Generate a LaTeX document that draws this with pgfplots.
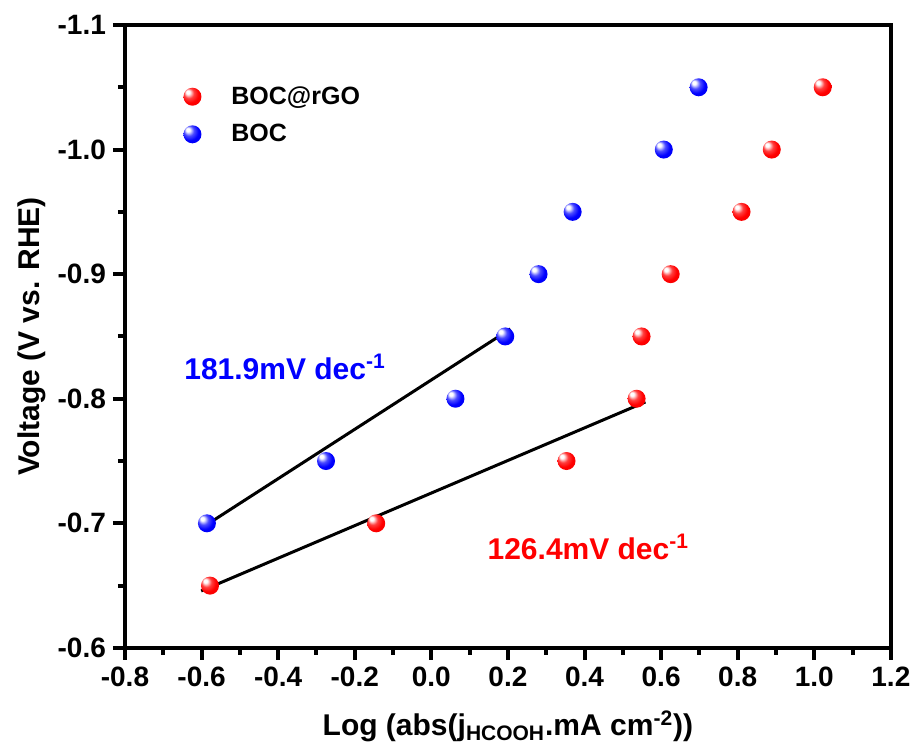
\documentclass[border=0pt]{standalone}
\usepackage{fontspec}
\setmainfont{Liberation Sans}
\usepackage{pgfplots}
\pgfplotsset{compat=1.18}
\pgfdeclareradialshading{redballsh}{\pgfpoint{-14bp}{14bp}}{color(0bp)=(white); color(5bp)=(white); color(14bp)=(red!75!white); color(24bp)=(red); color(50bp)=(red!92!black)}
\pgfdeclareradialshading{blueballsh}{\pgfpoint{-14bp}{14bp}}{color(0bp)=(white); color(5bp)=(white); color(14bp)=(blue!70!white); color(24bp)=(blue); color(50bp)=(blue!90!black)}
\pgfdeclareplotmark{redball}{\pgfpathcircle{\pgfpointorigin}{\pgfplotmarksize}\pgfshadepath{redballsh}{0}\pgfusepath{}}
\pgfdeclareplotmark{blueball}{\pgfpathcircle{\pgfpointorigin}{\pgfplotmarksize}\pgfshadepath{blueballsh}{0}\pgfusepath{}}
\begin{document}
\begin{tikzpicture}
\begin{axis}[
  name=ax,
  scale only axis,
  width=383pt, height=311.5pt,
  xmin=-0.8, xmax=1.2,
  ymin=-1.1, ymax=-0.6,
  y dir=reverse,
  axis line style={line width=2pt},
  xtick={-0.8,-0.6,-0.4,-0.2,0.0,0.2,0.4,0.6,0.8,1.0,1.2},
  xticklabels={-0.8,-0.6,-0.4,-0.2,0.0,0.2,0.4,0.6,0.8,1.0,1.2},
  ytick={-1.1,-1.0,-0.9,-0.8,-0.7,-0.6},
  yticklabels={-1.1,-1.0,-0.9,-0.8,-0.7,-0.6},
  minor x tick num=1, minor y tick num=1,
  tick align=outside,
  xtick pos=bottom, ytick pos=left,
  major tick length=6pt, minor tick length=3.5pt,
  every tick/.style={line width=2pt, black},
  tick label style={font=\fontsize{14}{16}\selectfont\bfseries},
  label style={font=\fontsize{15}{18}\selectfont\bfseries},
  xlabel={Log (abs(j\textsubscript{HCOOH}.mA cm\textsuperscript{-2}))},
  ylabel={Voltage (V vs. RHE)},
  xlabel style={yshift=-5pt},
  ylabel style={yshift=-1pt},
  clip=false,
  legend style={at={(0.068,0.915)}, anchor=north west, draw=none, fill=none,
    font=\fontsize{12.5}{15}\selectfont\bfseries, row sep=4.5pt,
    /tikz/every odd column/.append style={column sep=13pt}},
  legend cell align=left,
]
\addplot[only marks, mark=redball, mark size=4.5pt] table {
x y
-0.578 -0.65
-0.144 -0.70
0.353 -0.75
0.536 -0.80
0.549 -0.85
0.625 -0.90
0.810 -0.95
0.889 -1.00
1.022 -1.05
};
\addlegendentry{BOC@rGO}
\addplot[only marks, mark=blueball, mark size=4.5pt] table {
x y
-0.586 -0.70
-0.275 -0.75
0.063 -0.80
0.193 -0.85
0.280 -0.90
0.369 -0.95
0.607 -1.00
0.698 -1.05
};
\addlegendentry{BOC}
\addplot[black, line width=1.5pt, forget plot] coordinates {(-0.591,-0.698) (0.2065,-0.856)};
\addplot[black, line width=1.5pt, forget plot] coordinates {(-0.601,-0.6457) (0.559,-0.7974)};
\node[blue, font=\fontsize{15}{18}\selectfont\bfseries] at (axis cs:-0.382,-0.8255) {181.9mV dec\textsuperscript{-1}};
\node[red, font=\fontsize{15}{18}\selectfont\bfseries] at (axis cs:0.410,-0.681) {126.4mV dec\textsuperscript{-1}};
\end{axis}
\path (ax.south west) ++(-62.5pt,-53pt) coordinate (bl);
\path (ax.north east) ++(13pt,12.5pt) coordinate (tr);
\path (bl) rectangle (tr);
\end{tikzpicture}
\end{document}
